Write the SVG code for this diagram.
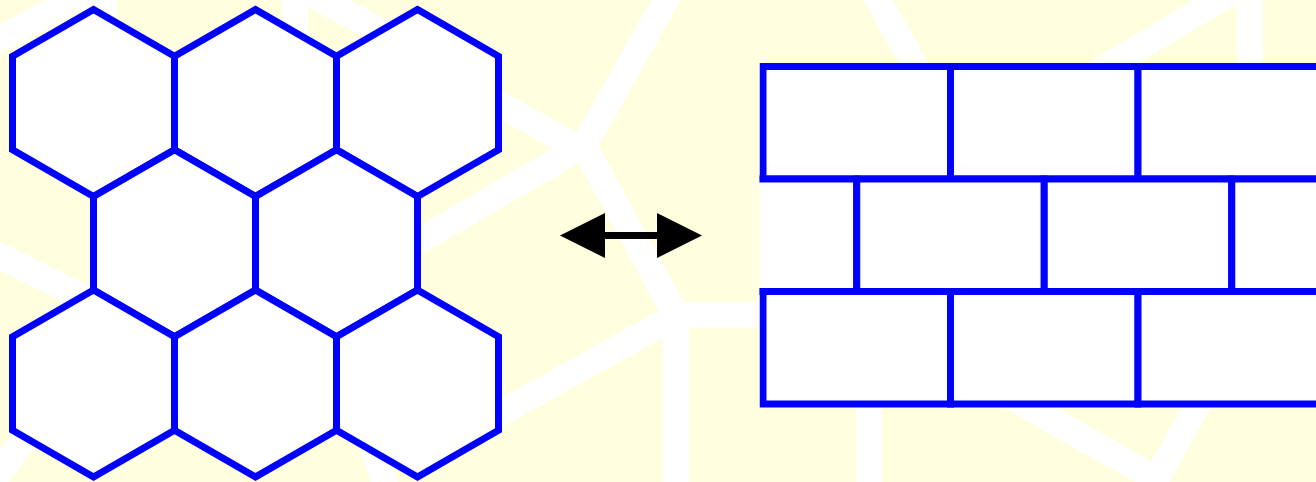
<svg xmlns="http://www.w3.org/2000/svg" width="1316" height="482" viewBox="0 0 1316 482">
<style>
.band{fill:none;stroke:#ffffff;stroke-width:26;stroke-linejoin:round}
.cell{fill:#ffffff;stroke:#0000ff;stroke-width:7;stroke-linejoin:miter}
.shaft{fill:none;stroke:#000000;stroke-width:7}
</style>
<defs>
<polygon id="hex" points="0,-93.5 81,-46.75 81,46.75 0,93.5 -81,46.75 -81,-46.75"/>
<clipPath id="wall"><rect x="759.5" y="0" width="620" height="482"/></clipPath>
<marker id="head" markerUnits="userSpaceOnUse" markerWidth="45" markerHeight="45" refX="0" refY="22.5" orient="auto-start-reverse" viewBox="0 0 45 45">
<path d="M0,0 L45,22.5 L0,45 Z" fill="#000000"/>
</marker>
</defs>
<g id="background">
<rect x="0" y="0" width="1316" height="482" fill="#ffffe0"/>
<path class="band" d="M-12,46 L106,-18"/>
<path class="band" d="M104,-20 L104,80"/>
<path class="band" d="M295,-30 L295,60"/>
<path class="band" d="M280,-23 L420,53"/>
<path class="band" d="M680,-25 L584,146 L676,315"/>
<path class="band" d="M400,50 L584,151"/>
<path class="band" d="M400,252 L584,145"/>
<path class="band" d="M676,315 L780,315"/>
<path class="band" d="M676,315 L676,500"/>
<path class="band" d="M676,316 L470,430"/>
<path class="band" d="M-20,246 L110,311"/>
<path class="band" d="M51,404 L-15,492"/>
<path class="band" d="M360,407 L388,493"/>
<path class="band" d="M870,-14 L925,83"/>
<path class="band" d="M1247,-17 L1090,77"/>
<path class="band" d="M1250,-20 L1250,70"/>
<path class="band" d="M869.5,400 L869.5,495"/>
<path class="band" d="M1000,391 L1160,481"/>
<path class="band" d="M1205,392 L1150,490"/>
</g>
<g id="hexagons">
<g id="hex-1-1"><use href="#hex" class="cell" transform="translate(93.5,103)"/></g>
<g id="hex-1-2"><use href="#hex" class="cell" transform="translate(255.5,103)"/></g>
<g id="hex-1-3"><use href="#hex" class="cell" transform="translate(417.5,103)"/></g>
<g id="hex-2-1"><use href="#hex" class="cell" transform="translate(174.5,243.25)"/></g>
<g id="hex-2-2"><use href="#hex" class="cell" transform="translate(336.5,243.25)"/></g>
<g id="hex-3-1"><use href="#hex" class="cell" transform="translate(93.5,383.5)"/></g>
<g id="hex-3-2"><use href="#hex" class="cell" transform="translate(255.5,383.5)"/></g>
<g id="hex-3-3"><use href="#hex" class="cell" transform="translate(417.5,383.5)"/></g>
</g>
<g id="bricks" clip-path="url(#wall)">
<g id="brick-1-1"><rect class="cell" x="763" y="66.5" width="187.5" height="112.5"/></g>
<g id="brick-1-2"><rect class="cell" x="950.5" y="66.5" width="187.5" height="112.5"/></g>
<g id="brick-1-3"><rect class="cell" x="1138" y="66.5" width="187.5" height="112.5"/></g>
<g id="brick-2-1"><rect class="cell" x="669.25" y="179" width="187.5" height="112.5"/></g>
<g id="brick-2-2"><rect class="cell" x="856.75" y="179" width="187.5" height="112.5"/></g>
<g id="brick-2-3"><rect class="cell" x="1044.25" y="179" width="187.5" height="112.5"/></g>
<g id="brick-2-4"><rect class="cell" x="1231.75" y="179" width="187.5" height="112.5"/></g>
<g id="brick-3-1"><rect class="cell" x="763" y="291.5" width="187.5" height="112.5"/></g>
<g id="brick-3-2"><rect class="cell" x="950.5" y="291.5" width="187.5" height="112.5"/></g>
<g id="brick-3-3"><rect class="cell" x="1138" y="291.5" width="187.5" height="112.5"/></g>
</g>
<g id="connectors">
<path class="shaft" d="M605,235.5 L657,235.5" marker-start="url(#head)" marker-end="url(#head)"/>
</g>
</svg>
